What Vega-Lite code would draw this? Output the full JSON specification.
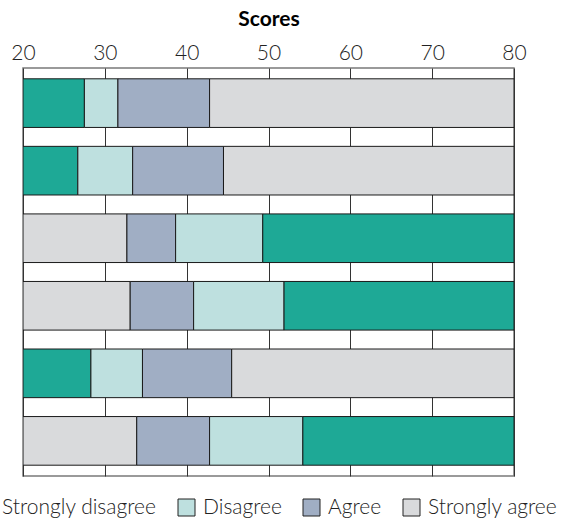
{
  "$schema": "https://vega.github.io/schema/vega-lite/v6.json",
  "autosize": {"type": "none"},
  "padding": {"left": 23, "top": 68, "right": 52, "bottom": 45},
  "width": 491,
  "height": 408,
  "data": {
    "values": [
      {"bar": 1, "response": "Strongly disagree", "start": 20, "end": 27.5},
      {"bar": 1, "response": "Disagree", "start": 27.5, "end": 31.6},
      {"bar": 1, "response": "Agree", "start": 31.6, "end": 42.8},
      {"bar": 1, "response": "Strongly agree", "start": 42.8, "end": 80},
      {"bar": 2, "response": "Strongly disagree", "start": 20, "end": 26.7},
      {"bar": 2, "response": "Disagree", "start": 26.7, "end": 33.4},
      {"bar": 2, "response": "Agree", "start": 33.4, "end": 44.5},
      {"bar": 2, "response": "Strongly agree", "start": 44.5, "end": 80},
      {"bar": 3, "response": "Strongly agree", "start": 20, "end": 32.7},
      {"bar": 3, "response": "Agree", "start": 32.7, "end": 38.65},
      {"bar": 3, "response": "Disagree", "start": 38.65, "end": 49.3},
      {"bar": 3, "response": "Strongly disagree", "start": 49.3, "end": 80},
      {"bar": 4, "response": "Strongly agree", "start": 20, "end": 33.1},
      {"bar": 4, "response": "Agree", "start": 33.1, "end": 40.85},
      {"bar": 4, "response": "Disagree", "start": 40.85, "end": 51.9},
      {"bar": 4, "response": "Strongly disagree", "start": 51.9, "end": 80},
      {"bar": 5, "response": "Strongly disagree", "start": 20, "end": 28.3},
      {"bar": 5, "response": "Disagree", "start": 28.3, "end": 34.6},
      {"bar": 5, "response": "Agree", "start": 34.6, "end": 45.5},
      {"bar": 5, "response": "Strongly agree", "start": 45.5, "end": 80},
      {"bar": 6, "response": "Strongly agree", "start": 20, "end": 33.9},
      {"bar": 6, "response": "Agree", "start": 33.9, "end": 42.8},
      {"bar": 6, "response": "Disagree", "start": 42.8, "end": 54.2},
      {"bar": 6, "response": "Strongly disagree", "start": 54.2, "end": 80}
    ]
  },
  "mark": {"type": "bar", "stroke": "#1a1a1a", "strokeWidth": 1, "clip": true},
  "encoding": {
    "y": {
      "field": "bar",
      "type": "ordinal",
      "axis": null,
      "scale": {"paddingInner": 0.28, "paddingOuter": 0.16}
    },
    "x": {
      "field": "start",
      "type": "quantitative",
      "scale": {"domain": [20, 80], "nice": false, "zero": false},
      "axis": {
        "orient": "top",
        "title": "Scores",
        "values": [20, 30, 40, 50, 60, 70, 80],
        "ticks": false,
        "domain": false,
        "grid": true,
        "gridColor": "#333333",
        "gridOpacity": 1,
        "gridWidth": 1,
        "labelFont": "Lato",
        "labelFontWeight": 300,
        "labelFontSize": 21,
        "labelColor": "#222222",
        "labelPadding": 5,
        "labelDx": 3,
        "labelFlush": false,
        "titleFont": "Lato",
        "titleFontSize": 21,
        "titleFontWeight": "bold",
        "titleColor": "#000000",
        "titlePadding": 13
      }
    },
    "x2": {"field": "end"},
    "color": {
      "field": "response",
      "type": "nominal",
      "scale": {
        "domain": ["Strongly disagree", "Disagree", "Agree", "Strongly agree"],
        "range": ["#1ea996", "#bee0df", "#a0aec4", "#d9dadc"]
      },
      "legend": {
        "title": null,
        "orient": "none",
        "direction": "horizontal",
        "legendX": -48,
        "legendY": 429,
        "padding": 0,
        "symbolType": "square",
        "symbolSize": 289,
        "symbolStrokeColor": "#222222",
        "symbolStrokeWidth": 1,
        "symbolOpacity": 1,
        "labelFont": "Lato",
        "labelFontWeight": 300,
        "labelFontSize": 21,
        "labelColor": "#222222",
        "labelOffset": 6,
        "columnPadding": 19,
        "labelLimit": 300
      }
    }
  },
  "config": {
    "view": {"stroke": "#7a7a7a", "strokeWidth": 1.5}
  }
}
